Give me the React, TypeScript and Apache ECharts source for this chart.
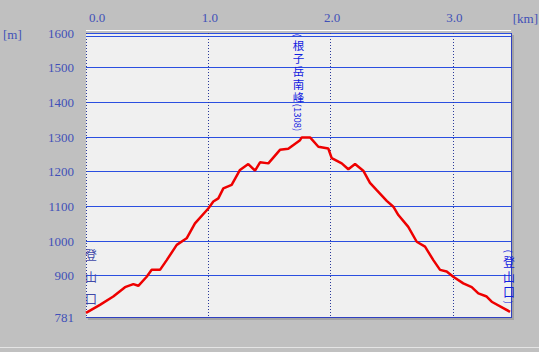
import React, { useEffect, useRef } from "react";
import * as echarts from "echarts";

// Distance along route (km) and elevation (m)
const distKm = [
  0.0, 0.114, 0.223, 0.319, 0.387, 0.428, 0.496, 0.537, 0.605, 0.66, 0.742, 0.823, 0.891,
  1.0, 1.041, 1.082, 1.123, 1.191, 1.259, 1.327, 1.382, 1.423, 1.491, 1.586, 1.654, 1.75,
  1.764, 1.832, 1.9, 1.981, 2.009, 2.091, 2.145, 2.2, 2.267, 2.322, 2.377, 2.459, 2.513,
  2.554, 2.635, 2.704, 2.772, 2.84, 2.895, 2.949, 3.003, 3.085, 3.154, 3.208, 3.276, 3.317,
  3.467,
];
const elevM = [
  793, 816, 840, 867, 876, 871, 897, 917, 917, 945, 989, 1008, 1051,
  1094, 1114, 1123, 1152, 1162, 1205, 1222, 1203, 1227, 1224, 1263, 1266, 1291,
  1299, 1299, 1272, 1267, 1239, 1224, 1207, 1222, 1203, 1168, 1147, 1116, 1099,
  1075, 1041, 998, 984, 945, 917, 912, 897, 878, 867, 849, 840, 825,
  796,
];

const yTickValues = [781, 900, 1000, 1100, 1200, 1300, 1400, 1500, 1600];
const xMin = 0;
const xMax = 3.475;
const yMin = 781;
const yMax = 1600;

// Place-name labels (vertical text) and their anchor points in data coordinates
const placeNames = ["登山口", "(根子岳南峰(1308)", "(登山口)"];
const placeKm = [0.04, 1.737, 3.459];
const placeElev = [899, 1315, 897];

const LABEL_COLOR = "#4050b8";
const GRID_BLUE = "#2a4ee0";
const CJK_FONT = '"Noto Sans CJK JP", "Noto Sans CJK SC", sans-serif';

let measureCtx: CanvasRenderingContext2D | null = null;
function measure(text: string, font: string): number {
  if (!measureCtx) {
    const c = document.createElement("canvas");
    measureCtx = c.getContext("2d");
  }
  if (!measureCtx) return text.length * 6;
  measureCtx.font = font;
  return measureCtx.measureText(text).width;
}

// Build vertical text: CJK upright, ASCII runs rotated clockwise.
function verticalText(
  str: string,
  cx: number,
  anchorY: number,
  anchor: "top" | "middle" | "bottom",
  fontSize: number,
  cjkAdvance: number,
  color: string
) {
  const font = `${fontSize}px ${CJK_FONT}`;
  const asciiFont = `9.5px ${CJK_FONT}`;
  type Seg = { text: string; cjk: boolean; adv: number };
  const segs: Seg[] = [];
  let run = "";
  const flush = () => {
    if (run) {
      const w = measure(run, asciiFont);
      segs.push({ text: run, cjk: false, adv: Math.max(w + 1, 6) });
      run = "";
    }
  };
  for (const ch of Array.from(str)) {
    if (ch.charCodeAt(0) > 0x2000) {
      flush();
      segs.push({ text: ch, cjk: true, adv: cjkAdvance });
    } else {
      run += ch;
    }
  }
  flush();
  const total = segs.reduce((s, g) => s + g.adv, 0);
  let y = anchor === "top" ? anchorY : anchor === "bottom" ? anchorY - total : anchorY - total / 2;
  const children: any[] = [];
  for (const g of segs) {
    const cy = y + g.adv / 2;
    children.push({
      type: "text",
      x: cx,
      y: cy,
      rotation: g.cjk ? 0 : -Math.PI / 2,
      silent: true,
      style: {
        text: g.text,
        fill: color,
        font: g.cjk ? font : asciiFont,
        lineHeight: g.cjk ? Math.min(fontSize, cjkAdvance) : 10,
        align: "center",
        verticalAlign: "middle",
        textAlign: "center",
        textVerticalAlign: "middle",
      },
    });
    y += g.adv;
  }
  return children;
}

export default function App() {
  const ref = useRef<HTMLDivElement>(null);

  useEffect(() => {
    if (!ref.current) return;
    const chart = echarts.init(ref.current, undefined, { renderer: "svg" });
    const gridLeft = 86;
    const gridTop = 33;
    const gridRight = 28;
    const gridBottom = 35;
    const W = 539;
    const H = 352;
    const plotR = W - gridRight;
    const plotB = H - gridBottom;

    chart.setOption({
      animation: false,
      backgroundColor: "#c0c0c0",
      grid: {
        left: gridLeft,
        top: gridTop,
        right: gridRight,
        bottom: gridBottom,
        show: true,
        backgroundColor: "#f0f0f0",
        borderWidth: 0,
      },
      xAxis: {
        type: "value",
        position: "top",
        min: xMin,
        max: xMax,
        interval: 1,
        axisLine: { show: false },
        axisTick: { show: false },
        axisLabel: {
          color: LABEL_COLOR,
          fontFamily: '"Liberation Serif", serif',
          fontSize: 13,
          margin: 9,
          showMaxLabel: false,
          alignMinLabel: "left",
          padding: [0, 0, 0, 3],
          formatter: (v: number) => v.toFixed(1),
        },
        splitLine: {
          show: true,
          lineStyle: { color: "#2a3a9a", width: 1, type: [1, 2] },
        },
      },
      yAxis: {
        type: "value",
        min: yMin,
        max: yMax,
        axisLine: { show: false },
        axisTick: { show: false, customValues: yTickValues },
        axisLabel: {
          color: LABEL_COLOR,
          fontFamily: '"Liberation Serif", serif',
          fontSize: 13,
          margin: 12,
          customValues: yTickValues,
          formatter: (v: number) => String(v),
        },
        splitLine: {
          show: true,
          lineStyle: { color: GRID_BLUE, width: 1, type: "solid" },
        },
      },
      series: [
        {
          type: "line",
          data: distKm.map((d, i) => [d, elevM[i]]),
          showSymbol: false,
          symbol: "none",
          lineStyle: { color: "#ee0000", width: 2.5 },
          z: 5,
        },
      ],
    });

    const labelColors = ["#4048a8", "#1020e0", "#1020e0"];
    const labelAnchors: ("top" | "middle" | "bottom")[] = ["middle", "bottom", "middle"];
    const labelAdv = [22, 13, 15];
    const labelFont = [12, 11.5, 12];
    const labelChildren: any[] = [];
    placeNames.forEach((name, i) => {
      const p = chart.convertToPixel({ gridIndex: 0 }, [placeKm[i], placeElev[i]]) as number[];
      labelChildren.push(
        ...verticalText(name, p[0], p[1], labelAnchors[i], labelFont[i], labelAdv[i], labelColors[i])
      );
    });

    chart.setOption({
      graphic: [
        // frame decorations
        { type: "rect", silent: true, shape: { x: gridLeft, y: 30, width: plotR - gridLeft, height: 1 }, style: { fill: "#ffffff" } },
        { type: "line", silent: true, shape: { x1: gridLeft, y1: 36.5, x2: plotR, y2: 36.5 }, style: { stroke: GRID_BLUE, lineWidth: 1 } },
        { type: "line", silent: true, shape: { x1: plotR + 0.5, y1: gridTop, x2: plotR + 0.5, y2: plotB + 1 }, style: { stroke: "#3040c0", lineWidth: 1 } },
        { type: "line", silent: true, shape: { x1: gridLeft, y1: plotB + 0.5, x2: plotR + 1, y2: plotB + 0.5 }, style: { stroke: "#3040c0", lineWidth: 1 } },
        { type: "rect", silent: true, shape: { x: plotR + 1, y: gridTop + 2, width: 2, height: plotB - gridTop }, style: { fill: "#a4a4a4" } },
        { type: "rect", silent: true, shape: { x: gridLeft + 2, y: plotB + 1, width: plotR - gridLeft + 1, height: 2 }, style: { fill: "#a4a4a4" } },
        { type: "rect", silent: true, shape: { x: 0, y: 347, width: W, height: 1 }, style: { fill: "#e4e4e4" } },
        // unit labels
        {
          type: "text", silent: true, x: 3, y: 34,
          style: { text: "[m]", fill: LABEL_COLOR, font: '13px "Liberation Serif", serif', align: "left", verticalAlign: "middle", textAlign: "left", textVerticalAlign: "middle" },
        },
        {
          type: "text", silent: true, x: 538, y: 18,
          style: { text: "[km]", fill: LABEL_COLOR, font: '13px "Liberation Serif", serif', align: "right", verticalAlign: "middle", textAlign: "right", textVerticalAlign: "middle" },
        },
        ...labelChildren,
      ],
    });

    return () => {
      chart.dispose();
    };
  }, []);

  return (
    <div
      ref={ref}
      style={{ position: "fixed", left: 0, top: 0, width: 539, height: 352 }}
    />
  );
}
